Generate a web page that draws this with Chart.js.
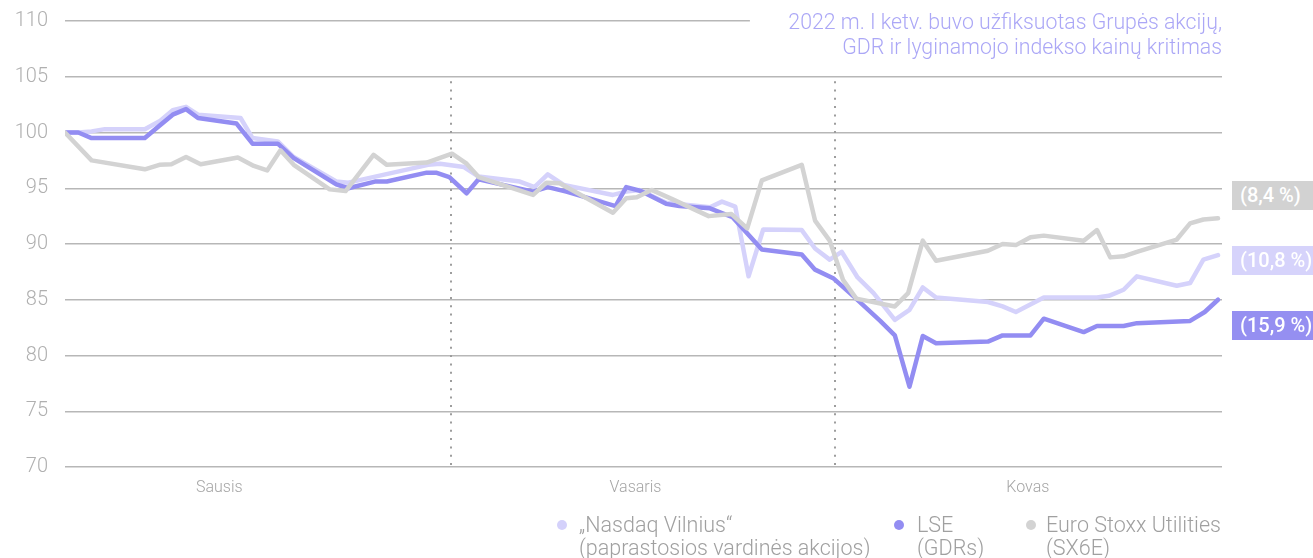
<!DOCTYPE html>
<html>
<head>
<meta charset="utf-8">
<script src="https://cdn.jsdelivr.net/npm/chart.js@4.4.0/dist/chart.umd.min.js"></script>
<style>
  html, body { margin: 0; padding: 0; background: #fff; }
  #wrap { position: relative; width: 1313px; height: 558px; font-family: Roboto, "Liberation Sans", sans-serif; }
  #wrap canvas { position: absolute; left: 0; top: 0; }
  .note { position: absolute; right: 91px; top: 9px; text-align: right; color: #aba7f6; font-size: 21.3px; font-weight: 300; line-height: 25px; white-space: nowrap; }
  .tag { position: absolute; left: 1232px; width: 81px; height: 29px; line-height: 29px; color: #fff; font-size: 20px; font-weight: 500; padding-left: 8px; box-sizing: border-box; white-space: nowrap; overflow: hidden; }
  .leg { position: absolute; top: 513px; color: #a0a0a0; font-size: 21.5px; font-weight: 300; line-height: 23px; white-space: nowrap; }
  .dot { position: absolute; top: 520px; width: 10px; height: 10px; border-radius: 50%; }
</style>
</head>
<body>
<div id="wrap">
  <canvas id="stockChart"></canvas>
  <div class="note">2022 m. I ketv. buvo užfiksuotas Grupės akcijų,<br>GDR ir lyginamojo indekso kainų kritimas</div>
  <div class="tag" style="top:181px;background:#d2d2d2">(8,4 %)</div>
  <div class="tag" style="top:246px;background:#d6d3fb">(10,8 %)</div>
  <div class="tag" style="top:311px;background:#958ff1">(15,9 %)</div>
  <div class="dot" style="left:557px;background:#d4d1fb"></div>
  <div class="leg" style="left:579px">„Nasdaq Vilnius“<br>(paprastosios vardinės akcijos)</div>
  <div class="dot" style="left:894px;background:#938df2"></div>
  <div class="leg" style="left:917px">LSE<br>(GDRs)</div>
  <div class="dot" style="left:1026px;background:#d3d3d3"></div>
  <div class="leg" style="left:1046px">Euro Stoxx Utilities<br>(SX6E)</div>
</div>
<script>
// Q1 2022, x = day index from first trading day, y = index (start = 100)

var monthLabels = ['Sausis', 'Vasaris', 'Kovas'];
var monthLabelDays = [11.6, 42.9, 72.4];
var monthBreakDays = [29, 57.9];
var yTicks = [70, 75, 80, 85, 90, 95, 100, 105, 110];

var nasdaqDays = [0, 1, 2, 3, 6, 7.1, 8.1, 9.1, 10, 13.2, 14.1, 16, 17.2, 20.4, 21.3,
    27.3, 28.2, 30, 31.1, 34.2, 35.3, 36.3, 37.5, 41.2, 42.2, 43.2, 45.2, 48.5, 49.4, 50.4,
    51.4, 52.5, 55.4, 56.4, 57.5, 58.4, 59.6, 60.8, 62.4, 63.5, 64.5, 65.5, 69.4, 70.5, 71.5,
    73.6, 77.6, 78.5, 79.6, 80.6, 83.6, 84.6, 85.6, 86.7];
var nasdaqValues = [100, 100, 100.1, 100.3, 100.3, 101.0, 102.0, 102.3, 101.6, 101.3, 99.5, 99.2, 97.8, 95.6, 95.5,
    97.1, 97.2, 96.9, 96.05, 95.6, 95.1, 96.25, 95.3, 94.4, 94.7, 94.85, 93.7, 93.3, 93.8, 93.35,
    87.1, 91.3, 91.25, 89.6, 88.6, 89.3, 87.0, 85.6, 83.2, 84.1, 86.1, 85.2, 84.8, 84.4, 83.9,
    85.2, 85.2, 85.35, 85.9, 87.1, 86.25, 86.5, 88.6, 89.0];

var lseDays = [0, 1, 2, 6, 7.1, 8.1, 9.1, 10, 12.9, 14.1, 16, 17.2, 20.4, 21.3, 23.3,
    24.2, 27.2, 27.9, 28.9, 30.2, 31.1, 35.2, 36.3, 37.7, 41.4, 42.2, 43.3, 45.2, 46.2, 48.5,
    50.2, 52.4, 55.4, 56.4, 57.8, 59.3, 61.3, 62.4, 63.5, 64.5, 65.5, 69.4, 70.5, 72.6, 73.6,
    76.6, 77.6, 79.6, 80.6, 84.6, 85.7, 86.7];
var lseValues = [100, 100, 99.5, 99.5, 100.6, 101.6, 102.1, 101.3, 100.8, 99.0, 99.0, 97.7, 95.35, 95.0, 95.6,
    95.6, 96.4, 96.4, 96.0, 94.55, 95.8, 94.7, 95.1, 94.7, 93.4, 95.1, 94.75, 93.6, 93.4, 93.2,
    92.4, 89.5, 89.05, 87.7, 86.9, 85.3, 83.1, 81.8, 77.2, 81.75, 81.1, 81.25, 81.8, 81.8, 83.3,
    82.1, 82.65, 82.65, 82.9, 83.1, 83.9, 85.0];

var stoxxDays = [0, 2, 6, 7.1, 8, 9.1, 10.2, 13, 14.2, 15.2, 16.2, 17.2, 19.9, 21.1, 23.2,
    24.2, 27.2, 29.1, 30.2, 31.1, 35.2, 36.2, 37.2, 41.2, 42.2, 43, 44.1, 45.7, 48.4, 50.1,
    51.3, 52.4, 55.4, 56.4, 57.5, 58.5, 59.5, 62.4, 63.4, 64.5, 65.5, 69.4, 70.5, 71.5, 72.6,
    73.6, 76.6, 77.6, 78.6, 79.6, 80.6, 83.6, 84.6, 85.6, 86.7];
var stoxxValues = [100, 97.5, 96.7, 97.1, 97.15, 97.8, 97.15, 97.75, 97.0, 96.6, 98.4, 97.1, 94.9, 94.75, 98.0,
    97.1, 97.3, 98.1, 97.2, 96.0, 94.4, 95.5, 95.45, 92.8, 94.1, 94.2, 94.85, 94.0, 92.5, 92.7,
    91.4, 95.7, 97.1, 92.1, 90.3, 86.8, 85.1, 84.4, 85.6, 90.3, 88.5, 89.4, 90.0, 89.9, 90.6,
    90.75, 90.3, 91.25, 88.8, 88.9, 89.3, 90.4, 91.85, 92.2, 92.3];

function toPoints(days, values) {
    return days.map(function (d, i) { return { x: d, y: values[i] }; });
}

function lineSet(label, days, values, color, order) {
    return {
        label: label,
        data: toPoints(days, values),
        borderColor: color,
        backgroundColor: color,
        borderWidth: 4.5,
        borderCapStyle: 'round',
        borderJoinStyle: 'round',
        pointRadius: 0,
        tension: 0,
        fill: false,
        order: order
    };
}

// dotted month separators, and the top gridline stops short of the note
var decorPlugin = {
    id: 'decor',
    beforeDatasetsDraw: function (chart) {
        var ctx = chart.ctx;
        var xs = chart.scales.x, ys = chart.scales.y;
        var area = chart.chartArea;
        ctx.save();
        ctx.fillStyle = '#fff';
        ctx.fillRect(xs.getPixelForValue(51.5), area.top - 4, area.right - xs.getPixelForValue(51.5) + 10, 8);
        ctx.strokeStyle = '#9d9d9d';
        ctx.lineWidth = 2;
        ctx.setLineDash([2, 6.3]);
        monthBreakDays.forEach(function (d) {
            var x = Math.round(xs.getPixelForValue(d));
            ctx.beginPath();
            ctx.moveTo(x, ys.getPixelForValue(104.6));
            ctx.lineTo(x, area.bottom);
            ctx.stroke();
        });
        ctx.restore();
    }
};

var ctx = document.getElementById('stockChart').getContext('2d');
new Chart(ctx, {
    type: 'line',
    data: {
        datasets: [
            lineSet('Euro Stoxx Utilities (SX6E)', stoxxDays, stoxxValues, '#d3d3d3', 0),
            lineSet('LSE (GDRs)', lseDays, lseValues, '#938df2', 1),
            lineSet('„Nasdaq Vilnius“ (paprastosios vardinės akcijos)', nasdaqDays, nasdaqValues, '#d5d2fb', 2)
        ]
    },
    options: {
        responsive: true,
        maintainAspectRatio: false,
        animation: false,
        layout: { padding: { top: 21, right: 91, left: 0, bottom: 0 } },
        plugins: {
            legend: { display: false },
            tooltip: { enabled: false }
        },
        scales: {
            x: {
                type: 'linear',
                min: 0,
                max: 87,
                afterBuildTicks: function (scale) {
                    scale.ticks = monthLabelDays.map(function (d) { return { value: d }; });
                },
                afterFit: function (scale) {
                    scale.height = 91;
                    scale.paddingLeft = 0;
                    scale.paddingRight = 0;
                },
                ticks: {
                    padding: 11,
                    color: '#a5a5a5',
                    font: { family: 'Roboto', size: 16, weight: '300' },
                    maxRotation: 0,
                    callback: function (value, index) { return monthLabels[index]; }
                },
                grid: { display: false, drawTicks: false },
                border: { display: false }
            },
            y: {
                min: 70,
                max: 110,
                afterBuildTicks: function (scale) {
                    scale.ticks = yTicks.map(function (v) { return { value: v }; });
                },
                afterFit: function (scale) {
                    scale.width = 65;
                    scale.paddingTop = 0;
                    scale.paddingBottom = 0;
                },
                ticks: {
                    padding: 17,
                    color: '#b0b0b0',
                    font: { family: 'Roboto', size: 20, weight: '300' }
                },
                grid: { color: '#b7b7b7', lineWidth: 1.5, drawTicks: false },
                border: { display: false }
            }
        }
    },
    plugins: [decorPlugin]
});
</script>
</body>
</html>
